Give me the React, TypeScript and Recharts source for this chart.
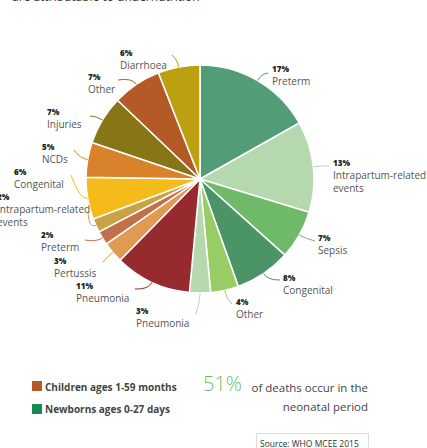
import React from 'react';
import { PieChart, Pie, Cell } from 'recharts';

const newbornCauses = ['Preterm', 'Intrapartum-related events', 'Sepsis', 'Congenital', 'Other', 'Pneumonia'];
const newbornValues = [17, 13, 7, 8, 4, 3];
const childCauses = ['Pneumonia', 'Pertussis', 'Preterm', 'Intrapartum-related events', 'Congenital', 'NCDs', 'Injuries', 'Other', 'Diarrhoea'];
const childValues = [11, 3, 2, 2, 6, 5, 7, 7, 6];

const newbornColors = ['#529c77', '#b5d8ae', '#6fba68', '#4a9468', '#98cc64', '#b5d8ae'];
const childColors = ['#962a2e', '#e09a52', '#c0704a', '#c9a245', '#f5bb1a', '#d8832b', '#877516', '#b45a27', '#bda010'];

const data = [
  ...newbornCauses.map((name, i) => ({ name, value: newbornValues[i], color: newbornColors[i] })),
  ...childCauses.map((name, i) => ({ name, value: childValues[i], color: childColors[i] })),
];

// label layout: text x, pct line centre y, leader end point
const labelLayout = [
  { tx: 272, ty: 68, ex: 268, ey: 73 },
  { tx: 333, ty: 162, ex: 329, ey: 166 },
  { tx: 318, ty: 237, ex: 315, ey: 241 },
  { tx: 283, ty: 277, ex: 280, ey: 280 },
  { tx: 236, ty: 301, ex: 232, ey: 304 },
  { tx: 136, ty: 310, ex: 196, ey: 314 },
  { tx: 76, ty: 285, ex: 135, ey: 289 },
  { tx: 54, ty: 260, ex: 103, ey: 262 },
  { tx: 41, ty: 234, ex: 85, ey: 240 },
  { tx: -3, ty: 196, ex: 88, ey: 212 },
  { tx: 14, ty: 171, ex: 71, ey: 175 },
  { tx: 42, ty: 146, ex: 74, ey: 150 },
  { tx: 47, ty: 111, ex: 90, ey: 116 },
  { tx: 88, ty: 76, ex: 118, ey: 80 },
  { tx: 120, ty: 52, ex: 172, ey: 55 },
];

const FONT = '"Open Sans", sans-serif';
const RAD = Math.PI / 180;

const renderLabel = (props: any) => {
  const { cx, cy, midAngle, outerRadius, index, value } = props;
  const d = data[index];
  const L = labelLayout[index];
  const sx = cx + outerRadius * Math.cos(-midAngle * RAD);
  const sy = cy + outerRadius * Math.sin(-midAngle * RAD);
  const mx = cx + (outerRadius + 8) * Math.cos(-midAngle * RAD);
  const my = cy + (outerRadius + 8) * Math.sin(-midAngle * RAD);
  const lines = d.name === 'Intrapartum-related events' ? ['Intrapartum-related', 'events'] : [d.name];
  return (
    <g key={`lbl-${index}`}>
      <path d={`M${sx},${sy} Q${mx},${my} ${L.ex},${L.ey}`} stroke={d.color} strokeWidth={1} fill="none" />
      <text x={L.tx} y={L.ty} dominantBaseline="central" fontFamily={FONT} fontSize={8} fontWeight={800} fill="#222">
        {value}%
      </text>
      {lines.map((ln, k) => (
        <text key={k} x={L.tx} y={L.ty + 12.5 + k * 13} dominantBaseline="central" fontFamily={FONT} fontSize={10} fill="#555">
          {ln}
        </text>
      ))}
    </g>
  );
};

export default function App() {
  return (
    <div style={{ position: 'absolute', left: 0, top: 0, width: 427, height: 448, background: '#fff', overflow: 'hidden' }}>
      <PieChart width={427} height={448} margin={{ top: 0, right: 0, bottom: 0, left: 0 }}>
        <Pie
          data={data}
          dataKey="value"
          nameKey="name"
          cx={200}
          cy={179}
          innerRadius={0}
          outerRadius={114}
          startAngle={90}
          endAngle={-270}
          stroke="#fff"
          strokeWidth={1.5}
          label={renderLabel}
          labelLine={false}
          isAnimationActive={false}
        >
          {data.map((d, i) => (
            <Cell key={i} fill={d.color} />
          ))}
        </Pie>
      </PieChart>
      <svg width={427} height={448} style={{ position: 'absolute', left: 0, top: 0, pointerEvents: 'none' }}>
        <text x={12} y={1} fontFamily={FONT} fontSize={12} fill="#333">are attributable to undernutrition</text>
        <rect x={32} y={381} width={10} height={10} fill="#b45a27" />
        <text x={45} y={387} dominantBaseline="central" fontFamily={FONT} fontSize={10} fontWeight={700} fill="#444">Children ages 1-59 months</text>
        <rect x={32} y={404} width={10} height={10} fill="#178a55" />
        <text x={45} y={409} dominantBaseline="central" fontFamily={FONT} fontSize={10} fontWeight={700} fill="#444">Newborns ages 0-27 days</text>
        <text x={203} y={391} fontFamily={FONT} fontSize={20} fontWeight={300} fill="#6cbf5c">51%</text>
        <text x={368} y={387} textAnchor="end" dominantBaseline="central" fontFamily={FONT} fontSize={11.5} fill="#444">of deaths occur in the</text>
        <text x={368} y={406} textAnchor="end" dominantBaseline="central" fontFamily={FONT} fontSize={11.5} fill="#444">neonatal period</text>
        <rect x={256.5} y={433.5} width={112} height={20} fill="#fff" stroke="#ddd" />
        <text x={260} y={443} dominantBaseline="central" fontFamily={FONT} fontSize={8.5} fill="#333">Source: WHO MCEE 2015</text>
      </svg>
    </div>
  );
}
